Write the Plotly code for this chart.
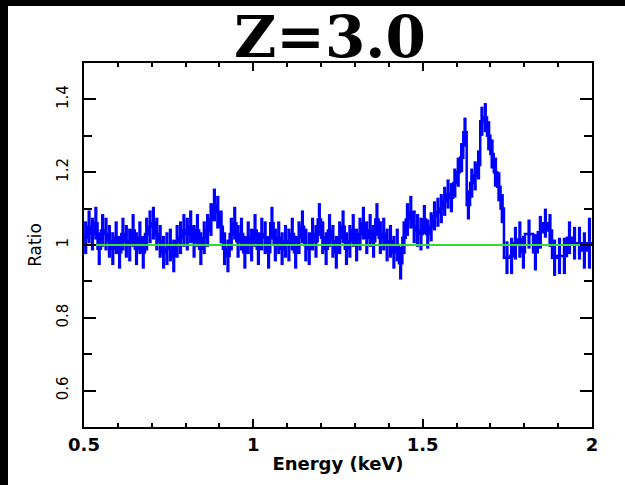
import numpy as np
import plotly.graph_objects as go

# ---- data ----
# low-energy channels: 0.01 keV wide from 0.50 to 1.74 keV
low_ratio = [
    1.02, 1.05, 1.03, 1.06, 0.99, 1.04, 1.03, 1.01, 0.99, 1.02,
    0.98, 1.03, 1.01, 1.00, 1.04, 0.99, 1.02, 0.98, 1.03, 1.05,
    1.06, 1.03, 1.01, 0.98, 0.99, 1.00, 0.97, 1.01, 1.02, 1.04,
    1.03, 1.05, 1.01, 1.04, 0.99, 1.02, 1.04, 1.07, 1.11, 1.09,
    1.05, 0.99, 0.97, 1.03, 1.06, 1.01, 1.03, 0.98, 1.02, 1.00,
    1.04, 0.99, 1.03, 1.02, 0.98, 1.06, 1.00, 1.02, 0.99, 1.01,
    1.00, 1.03, 0.98, 1.02, 1.05, 1.00, 0.99, 1.03, 1.01, 1.07,
    1.02, 0.99, 1.04, 1.01, 0.98, 1.02, 1.05, 0.99, 1.01, 1.04,
    1.00, 1.03, 1.06, 1.02, 1.04, 1.01, 1.07, 1.02, 1.03, 1.00,
    1.01, 0.98, 1.00, 0.95, 1.02, 1.07, 1.09, 1.05, 1.04, 1.03,
    1.07, 1.03, 1.05, 1.08, 1.09, 1.10, 1.12, 1.14, 1.13, 1.17,
    1.20, 1.24, 1.31, 1.11, 1.17, 1.19, 1.22, 1.34, 1.35, 1.30,
    1.25, 1.20, 1.16, 1.10,
]
low_err = [0.045] * 100 + [0.04] * 24
low_width = 0.01
low_start = 0.50

# high-energy grouped channels (bin edges, keV)
high_edges = [1.740, 1.758, 1.767, 1.781, 1.793, 1.802, 1.826, 1.840, 1.855,
              1.870, 1.882, 1.897, 1.911, 1.926, 1.941, 1.956, 1.970, 1.985, 2.000]
high_ratio = [0.965, 0.97, 1.005, 1.015, 0.98, 1.03, 0.98, 1.035, 1.06,
              1.04, 0.965, 0.97, 0.97, 1.02, 1.005, 1.005, 0.985, 1.005]
high_err = [0.045, 0.05, 0.045, 0.05, 0.045, 0.04, 0.05, 0.045, 0.04,
            0.045, 0.05, 0.05, 0.05, 0.045, 0.045, 0.045, 0.05, 0.07]

model_x = [0.5, 2.0]
model_y = [1.0, 1.0]

title_text = "Z=3.0"
x_ticks = [0.5, 1, 1.5, 2]
x_labels = ["0.5", "1", "1.5", "2"]
y_ticks = [0.6, 0.8, 1.0, 1.2, 1.4]
y_labels = ["0.6", "0.8", "1", "1.2", "1.4"]

# ---- build bins ----
n_low = len(low_ratio)
low_lo = [round(low_start + i * low_width, 4) for i in range(n_low)]
low_hi = [round(v + low_width, 4) for v in low_lo]
bin_lo = low_lo + high_edges[:-1]
bin_hi = low_hi + high_edges[1:]
ratio = low_ratio + high_ratio
err = low_err + high_err
centers = [(a + b) / 2 for a, b in zip(bin_lo, bin_hi)]
step_x = bin_lo + [bin_hi[-1]]
step_y = ratio + [ratio[-1]]

BLUE = "#0000ff"
fig = go.Figure()
fig.add_trace(go.Scatter(
    x=step_x, y=step_y, mode="lines", line=dict(color=BLUE, width=2.5, shape="hv"),
    hoverinfo="skip", showlegend=False))
fig.add_trace(go.Scatter(
    x=centers, y=ratio, mode="markers", marker=dict(size=1, color=BLUE),
    error_y=dict(type="data", array=err, color=BLUE, thickness=3.2, width=0),
    showlegend=False))
fig.add_trace(go.Scatter(
    x=model_x, y=model_y, mode="lines", line=dict(color="#33dd33", width=2),
    showlegend=False))

L, R, T, B = 84, 33, 63, 58
W, H = 625, 485
pw, ph = W - L - R, H - T - B

x_font = dict(family="DejaVu Sans", size=18, color="black", weight="bold")
y_font = dict(family="DejaVu Sans", size=15, color="black")
ytitle_font = dict(family="DejaVu Sans", size=17, color="black")
common = dict(showline=True, linecolor="black", linewidth=2, mirror="ticks",
              ticks="inside", tickcolor="black", tickwidth=2, showgrid=False,
              zeroline=False)
fig.update_xaxes(range=[0.5, 2.0], tickvals=x_ticks, ticktext=x_labels, ticklen=8,
                 tickfont=x_font,
                 minor=dict(ticks="inside", dtick=0.1, ticklen=4, tickwidth=2,
                            tickcolor="black", showgrid=False),
                 title=dict(text="Energy (keV)", font=x_font, standoff=4), **common)
fig.update_yaxes(range=[0.5, 1.5], tickvals=y_ticks, ticktext=y_labels, ticklen=12,
                 tickangle=-90, tickfont=y_font, ticklabelstandoff=8,
                 minor=dict(ticks="inside", dtick=0.1, ticklen=8, tickwidth=2,
                            tickcolor="black", showgrid=False),
                 title=dict(text="Ratio", font=ytitle_font, standoff=8), **common)

shapes = [
    # black strip along top edge of the image
    dict(type="rect", xref="paper", yref="paper", x0=-L / pw, x1=(W - L) / pw,
         y0=1 + (T - 6) / ph, y1=1 + T / ph, fillcolor="black", line_width=0, layer="above"),
    # black strip along left edge
    dict(type="rect", xref="paper", yref="paper", x0=-L / pw, x1=-(L - 8) / pw,
         y0=-B / ph, y1=1 + T / ph, fillcolor="black", line_width=0, layer="above"),
]

fig.update_layout(
    width=W, height=H, margin=dict(l=L, r=R, t=T, b=B),
    paper_bgcolor="white", plot_bgcolor="white", shapes=shapes,
    annotations=[dict(text="<b>" + title_text + "</b>", xref="paper", yref="paper",
                      x=(330 - L) / pw, y=1 + (T - 37) / ph, xanchor="center",
                      yanchor="middle", showarrow=False,
                      font=dict(family="DejaVu Serif", size=58, color="black"))],
)
fig.write_html("out.html")
